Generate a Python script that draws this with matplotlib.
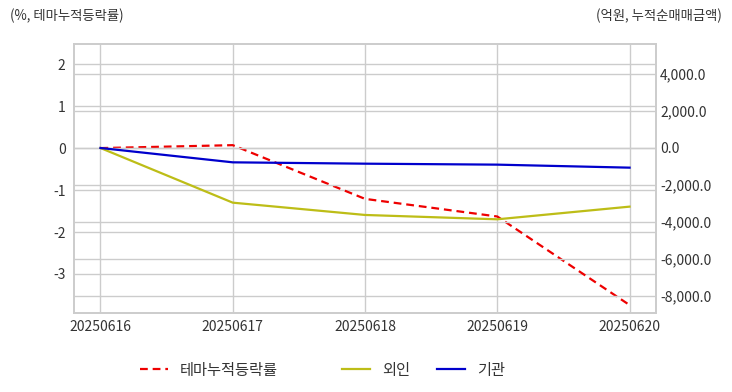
import numpy as np
import matplotlib.pyplot as plt
from matplotlib.lines import Line2D

plt.rcParams['font.family'] = ['Noto Sans CJK KR', 'DejaVu Sans']
plt.rcParams['axes.unicode_minus'] = False

# values
dates = ['20250616', '20250617', '20250618', '20250619', '20250620']
theme_pct = [0.0, 0.07, -1.21, -1.63, -3.74]        # 테마누적등락률 (%)
foreign = [0.0, -2955, -3620, -3855, -3170]         # 외인 (억원)
institution = [0.0, -775, -848, -900, -1063]        # 기관 (억원)

left_ticks = [-3, -2, -1, 0, 1, 2]
right_ticks = [-8000, -6000, -4000, -2000, 0, 2000, 4000]

grid_c = '#cccccc'
text_c = '#333333'

fig = plt.figure(figsize=(7.32, 3.92), dpi=100)
ax = fig.add_axes([0.1011, 0.2015, 0.7951, 0.6862])
ax2 = ax.twinx()

x = np.arange(len(dates))

ax.plot(x, theme_pct, color='#ee0000', lw=1.6, ls=(0, (3.5, 2.2)), zorder=5)
ax2.plot(x, foreign, color='#bdbd17', lw=1.6)
ax2.plot(x, institution, color='#0000cc', lw=1.6)

ax.set_xlim(-0.2, 4.2)
ax.set_ylim(-3.93, 2.48)
ax2.set_ylim(-8920, 5620)

ax.set_xticks(x)
ax.set_xticklabels(dates)
ax.set_yticks(left_ticks)
ax.set_yticklabels([str(v) for v in left_ticks])
ax2.set_yticks(right_ticks)
ax2.set_yticklabels(['{:,.1f}'.format(v) for v in right_ticks])

ax.grid(True, color=grid_c, lw=1)
ax2.grid(True, axis='y', color=grid_c, lw=1)
ax.set_axisbelow(True)
ax2.set_axisbelow(True)

for a in (ax, ax2):
    for s in a.spines.values():
        s.set_color(grid_c)
        s.set_linewidth(1.2)
    a.tick_params(length=0, labelsize=10, labelcolor=text_c)
ax.tick_params(axis='y', pad=6)
ax.tick_params(axis='x', pad=5)
ax2.tick_params(axis='y', pad=3)

fig.text(10 / 732, 1 - 16 / 392, '(%, 테마누적등락률)', fontsize=9.6, color=text_c,
         ha='left', va='center')
fig.text(722 / 732, 1 - 16 / 392, '(억원, 누적순매매금액)', fontsize=9.6, color=text_c,
         ha='right', va='center')

# legend items placed separately to match the uneven spacing
items = [
    (Line2D([], [], color='#ee0000', lw=1.6, ls=(0, (3.5, 2.2))), '테마누적등락률', 140),
    (Line2D([], [], color='#bdbd17', lw=1.6), '외인', 342),
    (Line2D([], [], color='#0000cc', lw=1.6), '기관', 437),
]
for h, lab, px in items:
    leg = fig.legend([h], [lab], loc='center left', bbox_to_anchor=(px / 732, 1 - 370 / 392),
                     frameon=False, fontsize=11, handlelength=1.85, handletextpad=0.75,
                     borderaxespad=0, borderpad=0)
    for t in leg.get_texts():
        t.set_color(text_c)

fig.savefig('out.png', dpi=100, facecolor='white')
